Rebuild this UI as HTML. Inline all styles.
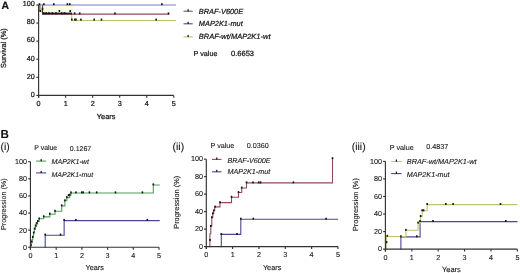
<!DOCTYPE html>
<html><head><meta charset="utf-8">
<style>
html,body{margin:0;padding:0;background:#fff;}
body{width:520px;height:273px;overflow:hidden;}
svg{display:block;}
text{font-family:"Liberation Sans", sans-serif;stroke:#222;stroke-width:0.1px;stroke-linejoin:round;text-rendering:geometricPrecision;}
text.h{stroke-width:0.24px;}
</style></head>
<body>
<svg width="520" height="273" viewBox="0 0 520 273">
<defs><filter id="bl" x="0" y="0" width="100%" height="100%"><feGaussianBlur stdDeviation="0.35"/></filter></defs>
<rect width="520" height="273" fill="#fff"/>
<g filter="url(#bl)">
<rect width="520" height="273" fill="#fff"/>
<rect x="39.5" y="5.8" width="34" height="7" fill="#fcfbe6"/>
<path d="M42.5,13.8 H71.7 V20.5 H175.4" fill="none" stroke="#c0c470" stroke-width="1.1" stroke-linejoin="miter" stroke-linecap="square"/>
<path d="M38.6,5.0 H39.8 V11 H42.5 V13.8" fill="none" stroke="#c0c470" stroke-width="1.1" stroke-linejoin="miter" stroke-linecap="square"/>
<path d="M38.6,5.0 H175.4" fill="none" stroke="#7c7cc8" stroke-width="1.1" stroke-linejoin="miter" stroke-linecap="square"/>
<path d="M42.5,5.0 V14.1 H168.8" fill="none" stroke="#924a5c" stroke-width="1.1" stroke-linejoin="miter" stroke-linecap="square"/>
<line x1="42.50" y1="13.50" x2="72.00" y2="13.50" stroke="#1a1a1a" stroke-width="1.7"/>
<line x1="42.50" y1="6.50" x2="42.50" y2="13.50" stroke="#3a3a2a" stroke-width="1.1"/>
<line x1="39.90" y1="5.50" x2="39.90" y2="11.00" stroke="#6a6a3a" stroke-width="1.1"/>
<rect x="38.70" y="3.20" width="1.6" height="2.0" fill="#151515"/>
<rect x="43.10" y="3.20" width="1.6" height="2.0" fill="#151515"/>
<rect x="53.00" y="3.20" width="1.6" height="2.0" fill="#151515"/>
<rect x="66.60" y="3.20" width="1.6" height="2.0" fill="#151515"/>
<rect x="69.00" y="3.20" width="1.6" height="2.0" fill="#151515"/>
<rect x="161.10" y="3.20" width="1.6" height="2.0" fill="#151515"/>
<rect x="39.50" y="10.00" width="1.6" height="2.0" fill="#151515"/>
<rect x="41.70" y="7.80" width="1.6" height="2.0" fill="#151515"/>
<rect x="42.90" y="12.20" width="1.6" height="2.0" fill="#151515"/>
<rect x="45.40" y="12.20" width="1.6" height="2.0" fill="#151515"/>
<rect x="48.10" y="12.20" width="1.6" height="2.0" fill="#151515"/>
<rect x="51.50" y="12.20" width="1.6" height="2.0" fill="#151515"/>
<rect x="55.20" y="12.20" width="1.6" height="2.0" fill="#151515"/>
<rect x="58.60" y="10.00" width="1.6" height="2.0" fill="#151515"/>
<rect x="61.00" y="12.20" width="1.6" height="2.0" fill="#151515"/>
<rect x="63.80" y="12.20" width="1.6" height="2.0" fill="#151515"/>
<rect x="69.40" y="10.10" width="1.6" height="2.0" fill="#151515"/>
<rect x="73.80" y="12.40" width="1.6" height="2.0" fill="#151515"/>
<rect x="78.90" y="12.40" width="1.6" height="2.0" fill="#151515"/>
<rect x="114.20" y="12.40" width="1.6" height="2.0" fill="#151515"/>
<rect x="167.70" y="12.40" width="1.6" height="2.0" fill="#151515"/>
<rect x="71.00" y="18.60" width="1.6" height="2.0" fill="#151515"/>
<rect x="74.00" y="18.60" width="1.6" height="2.0" fill="#151515"/>
<rect x="75.20" y="18.60" width="1.6" height="2.0" fill="#151515"/>
<rect x="80.10" y="18.60" width="1.6" height="2.0" fill="#151515"/>
<rect x="93.40" y="18.60" width="1.6" height="2.0" fill="#151515"/>
<rect x="100.70" y="18.60" width="1.6" height="2.0" fill="#151515"/>
<rect x="155.40" y="18.60" width="1.6" height="2.0" fill="#151515"/>
<line x1="183.50" y1="11.20" x2="192.70" y2="11.20" stroke="#924a5c" stroke-width="1.1"/>
<rect x="187.50" y="9.20" width="1.2" height="2.2" fill="#151515"/>
<line x1="183.50" y1="23.80" x2="192.70" y2="23.80" stroke="#4a4698" stroke-width="1.1"/>
<rect x="187.50" y="21.80" width="1.2" height="2.2" fill="#151515"/>
<line x1="183.50" y1="36.90" x2="192.70" y2="36.90" stroke="#c0c470" stroke-width="1.1"/>
<rect x="187.50" y="34.90" width="1.2" height="2.2" fill="#151515"/>
<path d="M45.2,247.25 V235.3 H64.15 V220.6 H159.2" fill="none" stroke="#4a4698" stroke-width="1.1" stroke-linejoin="miter" stroke-linecap="square"/>
<path d="M30.45,247.25 V246 H31.2 V243 H32 V239.5 H32.8 V236 H33.6 V232.5 H34.4 V229.5 H35.4 V226.5 H36.4 V224 H37.6 V221.5 H39.2 V218.8 H43.7 V216.9 H49.8 V214.2 H55 V211.3 H61.7 V205.9 H64.9 V200.8 H66.8 V197.6 H69.7 V195.1 H70.9 V193.0 H153.3 V185.0 H159.2" fill="none" stroke="#52a058" stroke-width="1.1" stroke-linejoin="miter" stroke-linecap="square"/>
<rect x="30.10" y="244.20" width="1.6" height="2.0" fill="#151515"/>
<rect x="31.00" y="240.50" width="1.6" height="2.0" fill="#151515"/>
<rect x="32.00" y="236.00" width="1.6" height="2.0" fill="#151515"/>
<rect x="32.90" y="231.50" width="1.6" height="2.0" fill="#151515"/>
<rect x="33.80" y="227.50" width="1.6" height="2.0" fill="#151515"/>
<rect x="34.80" y="224.50" width="1.6" height="2.0" fill="#151515"/>
<rect x="35.80" y="222.20" width="1.6" height="2.0" fill="#151515"/>
<rect x="37.00" y="220.00" width="1.6" height="2.0" fill="#151515"/>
<rect x="38.40" y="217.50" width="1.6" height="2.0" fill="#151515"/>
<rect x="42.90" y="215.30" width="1.6" height="2.0" fill="#151515"/>
<rect x="49.00" y="212.70" width="1.6" height="2.0" fill="#151515"/>
<rect x="54.20" y="209.80" width="1.6" height="2.0" fill="#151515"/>
<rect x="60.90" y="204.40" width="1.6" height="2.0" fill="#151515"/>
<rect x="64.10" y="199.30" width="1.6" height="2.0" fill="#151515"/>
<rect x="66.00" y="196.20" width="1.6" height="2.0" fill="#151515"/>
<rect x="67.70" y="194.20" width="1.6" height="2.0" fill="#151515"/>
<rect x="68.90" y="193.70" width="1.6" height="2.0" fill="#151515"/>
<rect x="70.20" y="191.40" width="1.6" height="2.0" fill="#151515"/>
<rect x="75.10" y="191.40" width="1.6" height="2.0" fill="#151515"/>
<rect x="81.00" y="191.40" width="1.6" height="2.0" fill="#151515"/>
<rect x="82.40" y="191.40" width="1.6" height="2.0" fill="#151515"/>
<rect x="88.60" y="191.40" width="1.6" height="2.0" fill="#151515"/>
<rect x="95.90" y="191.40" width="1.6" height="2.0" fill="#151515"/>
<rect x="114.70" y="191.40" width="1.6" height="2.0" fill="#151515"/>
<rect x="141.60" y="191.40" width="1.6" height="2.0" fill="#151515"/>
<rect x="152.50" y="183.40" width="1.6" height="2.0" fill="#151515"/>
<rect x="44.40" y="233.60" width="1.6" height="2.0" fill="#151515"/>
<rect x="59.70" y="233.60" width="1.6" height="2.0" fill="#151515"/>
<rect x="63.35" y="218.90" width="1.6" height="2.0" fill="#151515"/>
<rect x="75.10" y="218.90" width="1.6" height="2.0" fill="#151515"/>
<rect x="146.50" y="218.90" width="1.6" height="2.0" fill="#151515"/>
<line x1="36.10" y1="161.10" x2="46.20" y2="161.10" stroke="#52a058" stroke-width="1.1"/>
<rect x="40.55" y="159.10" width="1.2" height="2.2" fill="#151515"/>
<line x1="36.10" y1="172.90" x2="46.20" y2="172.90" stroke="#4a4698" stroke-width="1.1"/>
<rect x="40.55" y="170.90" width="1.2" height="2.2" fill="#151515"/>
<path d="M221.3,246.6 V234.4 H240.8 V219.25 H337.6" fill="none" stroke="#4a4698" stroke-width="1.1" stroke-linejoin="miter" stroke-linecap="square"/>
<path d="M209.9,246.6 V233.8 H210.8 V226 H211.8 V217.3 H212.8 V213.4 H213.7 V210.5 H214.7 V206.9 H220 V202.6 H231.5 V197.2 H238.5 V192.5 H241.7 V188.0 H246.5 V182.9 H332.5 V158.6" fill="none" stroke="#924a5c" stroke-width="1.1" stroke-linejoin="miter" stroke-linecap="square"/>
<rect x="209.20" y="239.00" width="1.6" height="2.0" fill="#151515"/>
<rect x="210.00" y="225.00" width="1.6" height="2.0" fill="#151515"/>
<rect x="211.00" y="216.30" width="1.6" height="2.0" fill="#151515"/>
<rect x="212.00" y="212.40" width="1.6" height="2.0" fill="#151515"/>
<rect x="212.90" y="209.50" width="1.6" height="2.0" fill="#151515"/>
<rect x="214.30" y="205.60" width="1.6" height="2.0" fill="#151515"/>
<rect x="219.20" y="201.20" width="1.6" height="2.0" fill="#151515"/>
<rect x="230.70" y="195.80" width="1.6" height="2.0" fill="#151515"/>
<rect x="237.70" y="191.10" width="1.6" height="2.0" fill="#151515"/>
<rect x="240.90" y="186.60" width="1.6" height="2.0" fill="#151515"/>
<rect x="245.70" y="181.40" width="1.6" height="2.0" fill="#151515"/>
<rect x="252.20" y="181.40" width="1.6" height="2.0" fill="#151515"/>
<rect x="257.90" y="181.40" width="1.6" height="2.0" fill="#151515"/>
<rect x="259.80" y="181.40" width="1.6" height="2.0" fill="#151515"/>
<rect x="292.60" y="181.40" width="1.6" height="2.0" fill="#151515"/>
<rect x="331.70" y="157.20" width="1.6" height="2.0" fill="#151515"/>
<rect x="220.50" y="233.00" width="1.6" height="2.0" fill="#151515"/>
<rect x="236.20" y="233.00" width="1.6" height="2.0" fill="#151515"/>
<rect x="240.00" y="217.70" width="1.6" height="2.0" fill="#151515"/>
<rect x="252.50" y="217.70" width="1.6" height="2.0" fill="#151515"/>
<rect x="325.30" y="217.70" width="1.6" height="2.0" fill="#151515"/>
<line x1="212.00" y1="159.40" x2="221.50" y2="159.40" stroke="#924a5c" stroke-width="1.1"/>
<rect x="216.15" y="157.40" width="1.2" height="2.2" fill="#151515"/>
<line x1="212.00" y1="171.80" x2="221.50" y2="171.80" stroke="#4a4698" stroke-width="1.1"/>
<rect x="216.15" y="169.80" width="1.2" height="2.2" fill="#151515"/>
<path d="M400.9,249.15 V236.9 H420.1 V221.6 H517" fill="none" stroke="#4a4698" stroke-width="1.1" stroke-linejoin="miter" stroke-linecap="square"/>
<path d="M386.6,249.15 V236.5 H405.9 V230.2 H418.1 V223 H420.6 V216.4 H422.2 V210.7 H427.2 V204.6 H516.9" fill="none" stroke="#c0c470" stroke-width="1.1" stroke-linejoin="miter" stroke-linecap="square"/>
<rect x="385.80" y="241.20" width="1.6" height="2.0" fill="#151515"/>
<rect x="386.50" y="234.80" width="1.6" height="2.0" fill="#151515"/>
<rect x="405.10" y="228.90" width="1.6" height="2.0" fill="#151515"/>
<rect x="417.30" y="221.60" width="1.6" height="2.0" fill="#151515"/>
<rect x="419.80" y="215.00" width="1.6" height="2.0" fill="#151515"/>
<rect x="421.40" y="209.30" width="1.6" height="2.0" fill="#151515"/>
<rect x="422.80" y="209.30" width="1.6" height="2.0" fill="#151515"/>
<rect x="426.40" y="203.00" width="1.6" height="2.0" fill="#151515"/>
<rect x="445.00" y="203.00" width="1.6" height="2.0" fill="#151515"/>
<rect x="452.30" y="203.00" width="1.6" height="2.0" fill="#151515"/>
<rect x="499.70" y="203.00" width="1.6" height="2.0" fill="#151515"/>
<rect x="400.10" y="235.30" width="1.6" height="2.0" fill="#151515"/>
<rect x="416.00" y="235.30" width="1.6" height="2.0" fill="#151515"/>
<rect x="419.30" y="220.00" width="1.6" height="2.0" fill="#151515"/>
<rect x="432.20" y="220.00" width="1.6" height="2.0" fill="#151515"/>
<rect x="505.00" y="220.00" width="1.6" height="2.0" fill="#151515"/>
<line x1="391.20" y1="161.50" x2="401.60" y2="161.50" stroke="#c0c470" stroke-width="1.1"/>
<rect x="395.80" y="159.50" width="1.2" height="2.2" fill="#151515"/>
<line x1="391.20" y1="173.60" x2="401.60" y2="173.60" stroke="#4a4698" stroke-width="1.1"/>
<rect x="395.80" y="171.60" width="1.2" height="2.2" fill="#151515"/>
<line x1="38.60" y1="5.00" x2="38.60" y2="97.80" stroke="#333333" stroke-width="1.15"/>
<line x1="38.60" y1="95.40" x2="173.75" y2="95.40" stroke="#333333" stroke-width="1.15"/>
<line x1="36.30" y1="5.00" x2="38.60" y2="5.00" stroke="#333333" stroke-width="1.15"/>
<line x1="36.30" y1="23.08" x2="38.60" y2="23.08" stroke="#333333" stroke-width="1.15"/>
<line x1="36.30" y1="41.16" x2="38.60" y2="41.16" stroke="#333333" stroke-width="1.15"/>
<line x1="36.30" y1="59.24" x2="38.60" y2="59.24" stroke="#333333" stroke-width="1.15"/>
<line x1="36.30" y1="77.32" x2="38.60" y2="77.32" stroke="#333333" stroke-width="1.15"/>
<line x1="36.30" y1="95.40" x2="38.60" y2="95.40" stroke="#333333" stroke-width="1.15"/>
<line x1="38.60" y1="95.40" x2="38.60" y2="97.80" stroke="#333333" stroke-width="1.15"/>
<line x1="65.63" y1="95.40" x2="65.63" y2="97.80" stroke="#333333" stroke-width="1.15"/>
<line x1="92.66" y1="95.40" x2="92.66" y2="97.80" stroke="#333333" stroke-width="1.15"/>
<line x1="119.69" y1="95.40" x2="119.69" y2="97.80" stroke="#333333" stroke-width="1.15"/>
<line x1="146.72" y1="95.40" x2="146.72" y2="97.80" stroke="#333333" stroke-width="1.15"/>
<line x1="173.75" y1="95.40" x2="173.75" y2="97.80" stroke="#333333" stroke-width="1.15"/>
<line x1="30.45" y1="161.70" x2="30.45" y2="249.65" stroke="#333333" stroke-width="1.15"/>
<line x1="30.45" y1="247.25" x2="159.05" y2="247.25" stroke="#333333" stroke-width="1.15"/>
<line x1="28.15" y1="161.70" x2="30.45" y2="161.70" stroke="#333333" stroke-width="1.15"/>
<line x1="28.15" y1="178.81" x2="30.45" y2="178.81" stroke="#333333" stroke-width="1.15"/>
<line x1="28.15" y1="195.92" x2="30.45" y2="195.92" stroke="#333333" stroke-width="1.15"/>
<line x1="28.15" y1="213.03" x2="30.45" y2="213.03" stroke="#333333" stroke-width="1.15"/>
<line x1="28.15" y1="230.14" x2="30.45" y2="230.14" stroke="#333333" stroke-width="1.15"/>
<line x1="28.15" y1="247.25" x2="30.45" y2="247.25" stroke="#333333" stroke-width="1.15"/>
<line x1="30.45" y1="247.25" x2="30.45" y2="249.65" stroke="#333333" stroke-width="1.15"/>
<line x1="56.17" y1="247.25" x2="56.17" y2="249.65" stroke="#333333" stroke-width="1.15"/>
<line x1="81.89" y1="247.25" x2="81.89" y2="249.65" stroke="#333333" stroke-width="1.15"/>
<line x1="107.61" y1="247.25" x2="107.61" y2="249.65" stroke="#333333" stroke-width="1.15"/>
<line x1="133.33" y1="247.25" x2="133.33" y2="249.65" stroke="#333333" stroke-width="1.15"/>
<line x1="159.05" y1="247.25" x2="159.05" y2="249.65" stroke="#333333" stroke-width="1.15"/>
<line x1="206.30" y1="159.15" x2="206.30" y2="249.00" stroke="#333333" stroke-width="1.15"/>
<line x1="206.30" y1="246.60" x2="337.95" y2="246.60" stroke="#333333" stroke-width="1.15"/>
<line x1="204.00" y1="159.15" x2="206.30" y2="159.15" stroke="#333333" stroke-width="1.15"/>
<line x1="204.00" y1="176.64" x2="206.30" y2="176.64" stroke="#333333" stroke-width="1.15"/>
<line x1="204.00" y1="194.13" x2="206.30" y2="194.13" stroke="#333333" stroke-width="1.15"/>
<line x1="204.00" y1="211.62" x2="206.30" y2="211.62" stroke="#333333" stroke-width="1.15"/>
<line x1="204.00" y1="229.11" x2="206.30" y2="229.11" stroke="#333333" stroke-width="1.15"/>
<line x1="204.00" y1="246.60" x2="206.30" y2="246.60" stroke="#333333" stroke-width="1.15"/>
<line x1="206.30" y1="246.60" x2="206.30" y2="249.00" stroke="#333333" stroke-width="1.15"/>
<line x1="232.63" y1="246.60" x2="232.63" y2="249.00" stroke="#333333" stroke-width="1.15"/>
<line x1="258.96" y1="246.60" x2="258.96" y2="249.00" stroke="#333333" stroke-width="1.15"/>
<line x1="285.29" y1="246.60" x2="285.29" y2="249.00" stroke="#333333" stroke-width="1.15"/>
<line x1="311.62" y1="246.60" x2="311.62" y2="249.00" stroke="#333333" stroke-width="1.15"/>
<line x1="337.95" y1="246.60" x2="337.95" y2="249.00" stroke="#333333" stroke-width="1.15"/>
<line x1="385.40" y1="161.40" x2="385.40" y2="251.55" stroke="#333333" stroke-width="1.15"/>
<line x1="385.40" y1="249.15" x2="517.40" y2="249.15" stroke="#333333" stroke-width="1.15"/>
<line x1="383.10" y1="161.40" x2="385.40" y2="161.40" stroke="#333333" stroke-width="1.15"/>
<line x1="383.10" y1="178.95" x2="385.40" y2="178.95" stroke="#333333" stroke-width="1.15"/>
<line x1="383.10" y1="196.50" x2="385.40" y2="196.50" stroke="#333333" stroke-width="1.15"/>
<line x1="383.10" y1="214.05" x2="385.40" y2="214.05" stroke="#333333" stroke-width="1.15"/>
<line x1="383.10" y1="231.60" x2="385.40" y2="231.60" stroke="#333333" stroke-width="1.15"/>
<line x1="383.10" y1="249.15" x2="385.40" y2="249.15" stroke="#333333" stroke-width="1.15"/>
<line x1="385.40" y1="249.15" x2="385.40" y2="251.55" stroke="#333333" stroke-width="1.15"/>
<line x1="411.80" y1="249.15" x2="411.80" y2="251.55" stroke="#333333" stroke-width="1.15"/>
<line x1="438.20" y1="249.15" x2="438.20" y2="251.55" stroke="#333333" stroke-width="1.15"/>
<line x1="464.60" y1="249.15" x2="464.60" y2="251.55" stroke="#333333" stroke-width="1.15"/>
<line x1="491.00" y1="249.15" x2="491.00" y2="251.55" stroke="#333333" stroke-width="1.15"/>
<line x1="517.40" y1="249.15" x2="517.40" y2="251.55" stroke="#333333" stroke-width="1.15"/>
<text x="1.5" y="9.0" font-size="10.4" text-anchor="start" font-weight="bold" font-style="normal" fill="#111" class="h">A</text>
<text x="34.8" y="6.30" font-size="7.2" text-anchor="end" font-weight="normal" font-style="normal" fill="#111111" class="h">100</text>
<text x="34.8" y="24.38" font-size="7.2" text-anchor="end" font-weight="normal" font-style="normal" fill="#111111" class="h">80</text>
<text x="34.8" y="42.46" font-size="7.2" text-anchor="end" font-weight="normal" font-style="normal" fill="#111111" class="h">60</text>
<text x="34.8" y="60.54" font-size="7.2" text-anchor="end" font-weight="normal" font-style="normal" fill="#111111" class="h">40</text>
<text x="34.8" y="78.62" font-size="7.2" text-anchor="end" font-weight="normal" font-style="normal" fill="#111111" class="h">20</text>
<text x="34.8" y="96.70" font-size="7.2" text-anchor="end" font-weight="normal" font-style="normal" fill="#111111" class="h">0</text>
<text x="38.60" y="106.2" font-size="7.2" text-anchor="middle" font-weight="normal" font-style="normal" fill="#111111" class="h">0</text>
<text x="65.63" y="106.2" font-size="7.2" text-anchor="middle" font-weight="normal" font-style="normal" fill="#111111" class="h">1</text>
<text x="92.66" y="106.2" font-size="7.2" text-anchor="middle" font-weight="normal" font-style="normal" fill="#111111" class="h">2</text>
<text x="119.69" y="106.2" font-size="7.2" text-anchor="middle" font-weight="normal" font-style="normal" fill="#111111" class="h">3</text>
<text x="146.72" y="106.2" font-size="7.2" text-anchor="middle" font-weight="normal" font-style="normal" fill="#111111" class="h">4</text>
<text x="173.75" y="106.2" font-size="7.2" text-anchor="middle" font-weight="normal" font-style="normal" fill="#111111" class="h">5</text>
<text x="106.17" y="119.2" font-size="7.4" text-anchor="middle" font-weight="normal" font-style="normal" fill="#111111" class="h">Years</text>
<text x="0" y="0" font-size="7.4" text-anchor="middle" fill="#111111" class="h" transform="translate(6.4,48.10) rotate(-90)">Survival (%)</text>
<text x="198.8" y="13.9" font-size="7.4" text-anchor="start" font-weight="normal" font-style="italic" fill="#111111" class="h">BRAF-V600E</text>
<text x="198.8" y="26.4" font-size="7.4" text-anchor="start" font-weight="normal" font-style="italic" fill="#111111" class="h">MAP2K1-mut</text>
<text x="198.8" y="39.3" font-size="7.5" text-anchor="start" font-weight="normal" font-style="italic" fill="#111111" class="h">BRAF-wt/MAP2K1-wt</text>
<text x="193.6" y="56.3" font-size="7.2" text-anchor="start" font-weight="normal" font-style="normal" fill="#111111" class="h">P value</text>
<text x="231.1" y="56.0" font-size="7.5" text-anchor="start" font-weight="normal" font-style="normal" fill="#111111" class="h">0.6653</text>
<text x="0.5" y="137.5" font-size="11.6" text-anchor="start" font-weight="bold" font-style="normal" fill="#111" >B</text>
<text x="0.6" y="149.6" font-size="10.4" text-anchor="start" font-weight="normal" font-style="normal" fill="#111111" >(i)</text>
<text x="34.3" y="150.4" font-size="6.9" text-anchor="start" font-weight="normal" font-style="normal" fill="#111111" >P value</text>
<text x="69.8" y="150.5" font-size="7.0" text-anchor="start" font-weight="normal" font-style="normal" fill="#111111" >0.1267</text>
<text x="27.0" y="164.10" font-size="7.2" text-anchor="end" font-weight="normal" font-style="normal" fill="#111111" >100</text>
<text x="27.0" y="181.21" font-size="7.2" text-anchor="end" font-weight="normal" font-style="normal" fill="#111111" >80</text>
<text x="27.0" y="198.32" font-size="7.2" text-anchor="end" font-weight="normal" font-style="normal" fill="#111111" >60</text>
<text x="27.0" y="215.43" font-size="7.2" text-anchor="end" font-weight="normal" font-style="normal" fill="#111111" >40</text>
<text x="27.0" y="232.54" font-size="7.2" text-anchor="end" font-weight="normal" font-style="normal" fill="#111111" >20</text>
<text x="27.0" y="249.65" font-size="7.2" text-anchor="end" font-weight="normal" font-style="normal" fill="#111111" >0</text>
<text x="30.45" y="257.6" font-size="7.2" text-anchor="middle" font-weight="normal" font-style="normal" fill="#111111" >0</text>
<text x="56.17" y="257.6" font-size="7.2" text-anchor="middle" font-weight="normal" font-style="normal" fill="#111111" >1</text>
<text x="81.89" y="257.6" font-size="7.2" text-anchor="middle" font-weight="normal" font-style="normal" fill="#111111" >2</text>
<text x="107.61" y="257.6" font-size="7.2" text-anchor="middle" font-weight="normal" font-style="normal" fill="#111111" >3</text>
<text x="133.33" y="257.6" font-size="7.2" text-anchor="middle" font-weight="normal" font-style="normal" fill="#111111" >4</text>
<text x="159.05" y="257.6" font-size="7.2" text-anchor="middle" font-weight="normal" font-style="normal" fill="#111111" >5</text>
<text x="94.75" y="269.7" font-size="7.3" text-anchor="middle" font-weight="normal" font-style="normal" fill="#111111" >Years</text>
<text x="0" y="0" font-size="7.2" text-anchor="middle" fill="#111111"  transform="translate(6.3,204.20) rotate(-90)">Progression (%)</text>
<text x="51.5" y="164.4" font-size="7.1" text-anchor="start" font-weight="normal" font-style="italic" fill="#111111" >MAP2K1-wt</text>
<text x="51.5" y="176.5" font-size="7.0" text-anchor="start" font-weight="normal" font-style="italic" fill="#111111" >MAP2K1-mut</text>
<text x="172.6" y="149.6" font-size="10.4" text-anchor="start" font-weight="normal" font-style="normal" fill="#111111" >(ii)</text>
<text x="210.5" y="147.8" font-size="7.2" text-anchor="start" font-weight="normal" font-style="normal" fill="#111111" >P value</text>
<text x="246.8" y="147.9" font-size="7.2" text-anchor="start" font-weight="normal" font-style="normal" fill="#111111" >0.0360</text>
<text x="202.9" y="161.45" font-size="7.2" text-anchor="end" font-weight="normal" font-style="normal" fill="#111111" >100</text>
<text x="202.9" y="178.94" font-size="7.2" text-anchor="end" font-weight="normal" font-style="normal" fill="#111111" >80</text>
<text x="202.9" y="196.43" font-size="7.2" text-anchor="end" font-weight="normal" font-style="normal" fill="#111111" >60</text>
<text x="202.9" y="213.92" font-size="7.2" text-anchor="end" font-weight="normal" font-style="normal" fill="#111111" >40</text>
<text x="202.9" y="231.41" font-size="7.2" text-anchor="end" font-weight="normal" font-style="normal" fill="#111111" >20</text>
<text x="202.9" y="248.90" font-size="7.2" text-anchor="end" font-weight="normal" font-style="normal" fill="#111111" >0</text>
<text x="206.30" y="257.4" font-size="7.2" text-anchor="middle" font-weight="normal" font-style="normal" fill="#111111" >0</text>
<text x="232.63" y="257.4" font-size="7.2" text-anchor="middle" font-weight="normal" font-style="normal" fill="#111111" >1</text>
<text x="258.96" y="257.4" font-size="7.2" text-anchor="middle" font-weight="normal" font-style="normal" fill="#111111" >2</text>
<text x="285.29" y="257.4" font-size="7.2" text-anchor="middle" font-weight="normal" font-style="normal" fill="#111111" >3</text>
<text x="311.62" y="257.4" font-size="7.2" text-anchor="middle" font-weight="normal" font-style="normal" fill="#111111" >4</text>
<text x="337.95" y="257.4" font-size="7.2" text-anchor="middle" font-weight="normal" font-style="normal" fill="#111111" >5</text>
<text x="272.12" y="270.1" font-size="7.3" text-anchor="middle" font-weight="normal" font-style="normal" fill="#111111" >Years</text>
<text x="0" y="0" font-size="7.4" text-anchor="middle" fill="#111111"  transform="translate(178.6,202.30) rotate(-90)">Progression (%)</text>
<text x="227.5" y="162.5" font-size="7.2" text-anchor="start" font-weight="normal" font-style="italic" fill="#111111" >BRAF-V600E</text>
<text x="227.5" y="174.3" font-size="7.2" text-anchor="start" font-weight="normal" font-style="italic" fill="#111111" >MAP2K1-mut</text>
<text x="351.8" y="149.8" font-size="10.4" text-anchor="start" font-weight="normal" font-style="normal" fill="#111111" >(iii)</text>
<text x="389.8" y="149.7" font-size="7.2" text-anchor="start" font-weight="normal" font-style="normal" fill="#111111" >P value</text>
<text x="426.2" y="149.4" font-size="7.2" text-anchor="start" font-weight="normal" font-style="normal" fill="#111111" >0.4837</text>
<text x="382.0" y="163.70" font-size="7.2" text-anchor="end" font-weight="normal" font-style="normal" fill="#111111" >100</text>
<text x="382.0" y="181.25" font-size="7.2" text-anchor="end" font-weight="normal" font-style="normal" fill="#111111" >80</text>
<text x="382.0" y="198.80" font-size="7.2" text-anchor="end" font-weight="normal" font-style="normal" fill="#111111" >60</text>
<text x="382.0" y="216.35" font-size="7.2" text-anchor="end" font-weight="normal" font-style="normal" fill="#111111" >40</text>
<text x="382.0" y="233.90" font-size="7.2" text-anchor="end" font-weight="normal" font-style="normal" fill="#111111" >20</text>
<text x="382.0" y="251.45" font-size="7.2" text-anchor="end" font-weight="normal" font-style="normal" fill="#111111" >0</text>
<text x="385.40" y="259.6" font-size="7.2" text-anchor="middle" font-weight="normal" font-style="normal" fill="#111111" >0</text>
<text x="411.80" y="259.6" font-size="7.2" text-anchor="middle" font-weight="normal" font-style="normal" fill="#111111" >1</text>
<text x="438.20" y="259.6" font-size="7.2" text-anchor="middle" font-weight="normal" font-style="normal" fill="#111111" >2</text>
<text x="464.60" y="259.6" font-size="7.2" text-anchor="middle" font-weight="normal" font-style="normal" fill="#111111" >3</text>
<text x="491.00" y="259.6" font-size="7.2" text-anchor="middle" font-weight="normal" font-style="normal" fill="#111111" >4</text>
<text x="517.40" y="259.6" font-size="7.2" text-anchor="middle" font-weight="normal" font-style="normal" fill="#111111" >5</text>
<text x="451.40" y="272.0" font-size="7.5" text-anchor="middle" font-weight="normal" font-style="normal" fill="#111111" >Years</text>
<text x="0" y="0" font-size="7.4" text-anchor="middle" fill="#111111"  transform="translate(358.1,204.60) rotate(-90)">Progression (%)</text>
<text x="406.8" y="164.2" font-size="7.3" text-anchor="start" font-weight="normal" font-style="italic" fill="#111111" >BRAF-wt/MAP2K1-wt</text>
<text x="406.8" y="176.5" font-size="7.2" text-anchor="start" font-weight="normal" font-style="italic" fill="#111111" >MAP2K1-mut</text>
</g>
</svg>
</body></html>
